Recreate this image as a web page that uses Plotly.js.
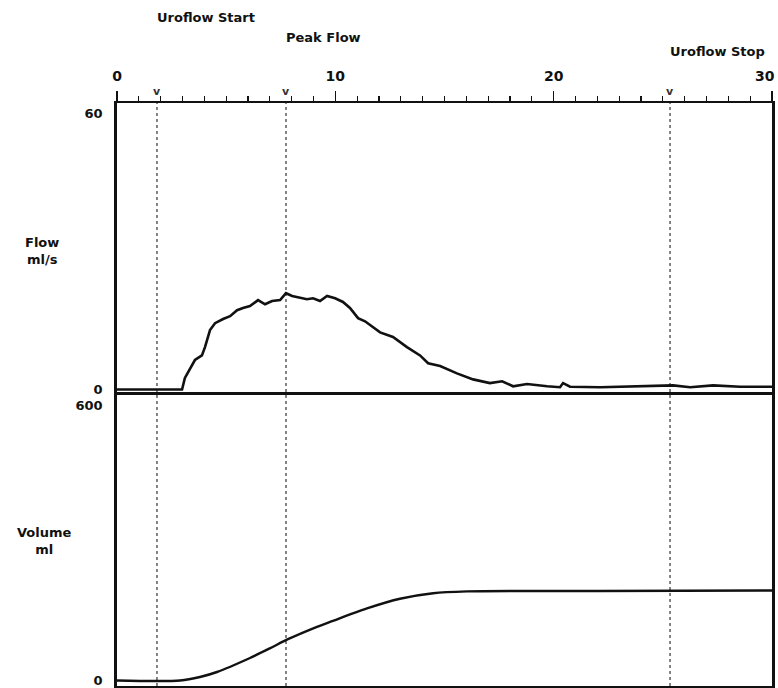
<!DOCTYPE html>
<html>
<head>
<meta charset="utf-8">
<script src="https://cdn.plot.ly/plotly-3.0.1.min.js"></script>
<style>html,body{margin:0;padding:0;background:#fff;}</style>
</head>
<body>
<div id="chart" style="width:778px;height:688px;"></div>
<script>
// Time axis (s)
const xTickVals = [0, 10, 20, 30];
const xTickText = ['0', '10', '20', ''];
const xEndLabel = '30';

// Flow curve (ml/s)
const flowTime = [0, 2.98, 3.11, 3.34, 3.57, 3.89, 4.03, 4.26, 4.49, 4.86, 5.18, 5.50, 5.77, 6.09, 6.46, 6.78, 7.10, 7.47, 7.74, 8.02, 8.38, 8.70, 8.98, 9.30, 9.62, 9.99, 10.35, 10.67, 11.04, 11.36, 12.05, 12.64, 13.28, 13.88, 14.25, 14.80, 15.57, 16.31, 17.08, 17.64, 18.14, 18.78, 19.70, 20.29, 20.43, 20.75, 22.13, 23.96, 25.47, 26.25, 27.30, 28.54, 30.0];
const flowValue = [0, 0, 2.5, 4.6, 6.4, 7.4, 9.2, 12.9, 14.4, 15.3, 15.9, 17.2, 17.7, 18.1, 19.4, 18.5, 19.2, 19.4, 20.9, 20.3, 20.0, 19.6, 19.8, 19.2, 20.3, 19.8, 19.0, 17.7, 15.5, 14.8, 12.4, 11.4, 9.2, 7.4, 5.7, 5.1, 3.5, 2.2, 1.4, 1.8, 0.7, 1.2, 0.7, 0.5, 1.4, 0.6, 0.5, 0.7, 0.9, 0.5, 0.9, 0.6, 0.6];

// Voided volume curve (ml)
const volTime = [0, 2.89, 3.80, 4.58, 6.09, 7.0, 7.83, 9.16, 9.89, 11.45, 12.96, 14.48, 16.03, 18.46, 22.1, 30.0];
const volValue = [0, 0, 7.6, 18.5, 49, 70, 90, 117, 130, 157, 178, 190, 194, 195, 195, 196];

// Event markers
const eventTimes = [1.83, 7.74, 25.33];
const eventLabels = ['Uroflow Start', 'Peak Flow', 'Uroflow Stop'];
const eventLabelY = [1.1475, 1.1115, 1.0875];

// Axis labels
const flowTicks = [0, 60];
const volTicks = [0, 600];

const FONT = 'DejaVu Sans, Arial, sans-serif';
const INK = '#111';

const traces = [
  { x: flowTime, y: flowValue, xaxis: 'x', yaxis: 'y', mode: 'lines',
    line: { color: INK, width: 2.6 }, hoverinfo: 'skip', showlegend: false },
  { x: volTime, y: volValue, xaxis: 'x2', yaxis: 'y2', mode: 'lines',
    line: { color: INK, width: 2.4, shape: 'spline', smoothing: 0.8 }, hoverinfo: 'skip', showlegend: false }
];

const shapes = eventTimes.map(t => ({
  type: 'line', xref: 'x', yref: 'paper', x0: t, x1: t, y0: 0, y1: 1,
  line: { color: '#666', width: 1.6, dash: 'dot' }, layer: 'below'
}));

const annotations = [];
eventTimes.forEach((t, i) => {
  annotations.push({ xref: 'x', yref: 'paper', x: t, y: eventLabelY[i], xanchor: 'left', yanchor: 'middle',
    xshift: -2, text: eventLabels[i], showarrow: false,
    font: { family: FONT, size: 13, color: INK, weight: 'bold' } });
  annotations.push({ xref: 'x', yref: 'paper', x: t, y: 1.019, xanchor: 'center', yanchor: 'middle',
    text: 'v', showarrow: false, font: { family: FONT, size: 11, color: '#333', weight: 'bold' } });
});
annotations.push({ xref: 'x', yref: 'paper', x: xTickVals[3], y: 1.0, yshift: 27, xanchor: 'right', yanchor: 'middle',
  xshift: 5, text: xEndLabel, showarrow: false,
  font: { family: FONT, size: 14, color: INK, weight: 'bold' } });
annotations.push({ xref: 'paper', yref: 'paper', x: -0.114, y: 0.746, xanchor: 'center', yanchor: 'middle',
  text: 'Flow<br>ml/s', showarrow: false, align: 'center',
  font: { family: FONT, size: 13, color: INK, weight: 'bold' } });
annotations.push({ xref: 'paper', yref: 'paper', x: -0.110, y: 0.248, xanchor: 'center', yanchor: 'middle',
  text: 'Volume<br>ml', showarrow: false, align: 'center',
  font: { family: FONT, size: 13, color: INK, weight: 'bold' } });

const split = 291 / 583;

const layout = {
  width: 778, height: 688,
  margin: { l: 117, r: 6, t: 103, b: 2, pad: 0 },
  paper_bgcolor: '#fff', plot_bgcolor: '#fff',
  showlegend: false,
  xaxis: {
    domain: [0, 1], anchor: 'y', side: 'top', range: [0, 30],
    tickmode: 'array', tickvals: xTickVals, ticktext: xTickText,
    ticks: 'outside', ticklen: 10, tickwidth: 1.6, tickcolor: INK,
    ticklabelstandoff: 4,
    minor: { tickmode: 'linear', tick0: 0, dtick: 1, ticks: 'outside', ticklen: 5, tickwidth: 1.3, tickcolor: INK, showgrid: false },
    tickfont: { family: FONT, size: 14, color: INK, weight: 'bold' },
    showline: true, linecolor: INK, linewidth: 2.5, mirror: false,
    showgrid: false, zeroline: false, fixedrange: true
  },
  yaxis: {
    domain: [split, 1], anchor: 'x', range: [-1.19, 62.17],
    tickmode: 'array', tickvals: flowTicks, ticktext: flowTicks.map(String),
    ticks: 'outside', ticklen: 9, tickcolor: 'rgba(0,0,0,0)', ticklabeloverflow: 'allow',
    tickfont: { family: FONT, size: 13, color: INK, weight: 'bold' },
    showline: true, linecolor: INK, linewidth: 2.8, mirror: true,
    showgrid: false, zeroline: false, fixedrange: true
  },
  xaxis2: {
    domain: [0, 1], anchor: 'y2', range: [0, 30], matches: 'x',
    showticklabels: false, ticks: '',
    showline: true, linecolor: INK, linewidth: 2.8, mirror: true,
    showgrid: false, zeroline: false, fixedrange: true
  },
  yaxis2: {
    domain: [0, split], anchor: 'x2', range: [-12, 621.8],
    tickmode: 'array', tickvals: volTicks, ticktext: volTicks.map(String),
    ticks: 'outside', ticklen: 9, tickcolor: 'rgba(0,0,0,0)', ticklabeloverflow: 'allow',
    tickfont: { family: FONT, size: 13, color: INK, weight: 'bold' },
    showline: true, linecolor: INK, linewidth: 2.8, mirror: true,
    showgrid: false, zeroline: false, fixedrange: true
  },
  shapes: shapes,
  annotations: annotations
};

Plotly.newPlot('chart', traces, layout, { displayModeBar: false, staticPlot: true });
</script>
</body>
</html>
